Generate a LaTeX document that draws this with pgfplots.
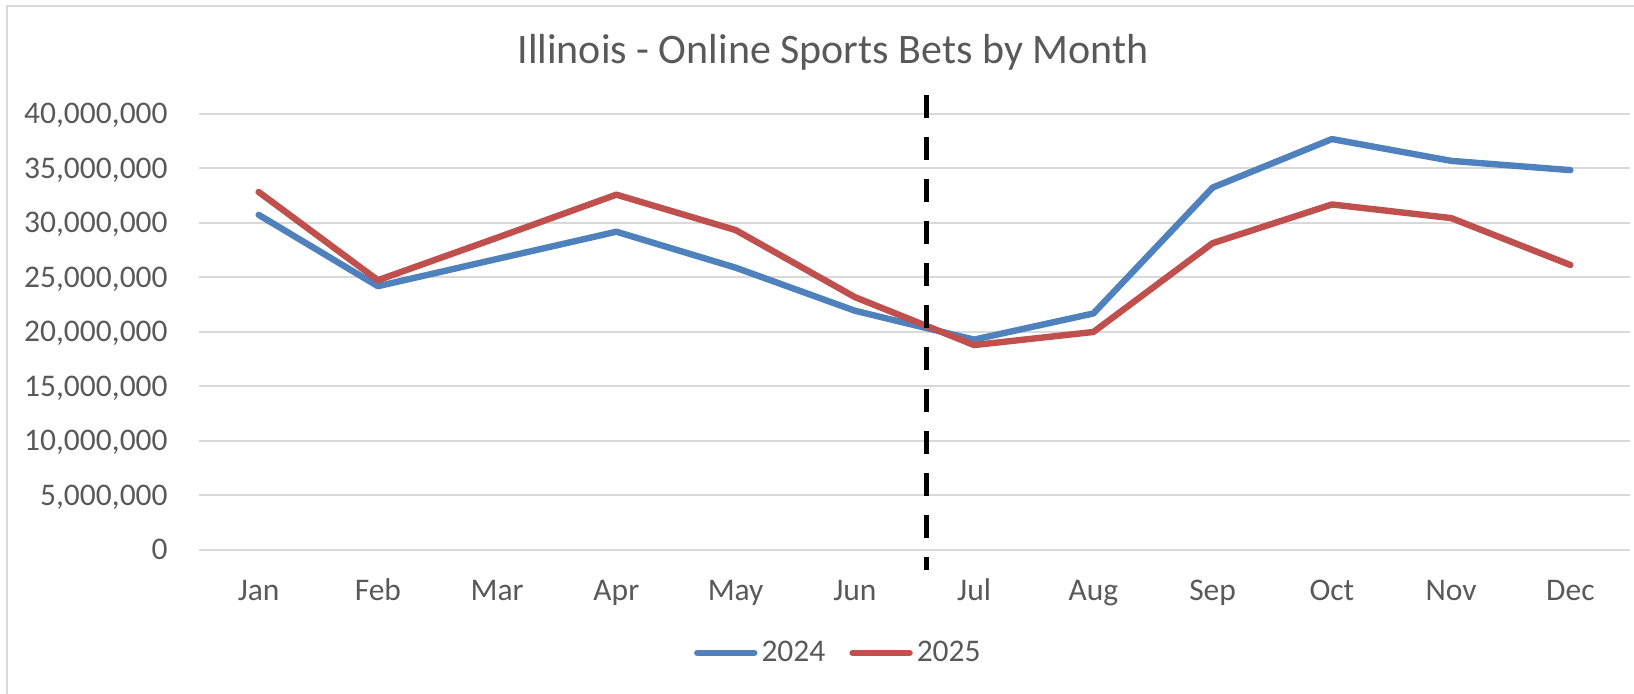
\documentclass[border=0pt]{standalone}
\usepackage{fontspec}
\setmainfont{Carlito}
\usepackage{pgfplots}
\pgfplotsset{compat=1.18}
\definecolor{blue24}{HTML}{4F81BD}
\definecolor{red25}{HTML}{C0504D}
\definecolor{txt}{HTML}{595959}
\definecolor{grd}{HTML}{D9D9D9}
\begin{document}
\begin{tikzpicture}
\path[use as bounding box] (0,0) rectangle (817pt,347pt);
\draw[grd, line width=1pt] (3.5pt,-10pt) -- (3.5pt,344pt) -- (830pt,344pt);
\node[txt, font=\fontsize{21pt}{25pt}\selectfont, anchor=center] at (416.5pt,321pt) {Illinois - Online Sports Bets by Month};
\begin{axis}[
  at={(99.5pt,72pt)}, anchor=south west,
  scale only axis, width=715.5pt, height=218pt,
  xmin=-0.5, xmax=11.5, ymin=0, ymax=40000000,
  scaled y ticks=false,
  axis line style={draw=none},
  major tick length=0pt,
  xtick={0,1,2,3,4,5,6,7,8,9,10,11},
  xticklabels={Jan,Feb,Mar,Apr,May,Jun,Jul,Aug,Sep,Oct,Nov,Dec},
  ytick={0,5000000,10000000,15000000,20000000,25000000,30000000,35000000,40000000},
  yticklabels={0,{5,000,000},{10,000,000},{15,000,000},{20,000,000},{25,000,000},{30,000,000},{35,000,000},{40,000,000}},
  ymajorgrids, grid style={grd, line width=1pt},
  tick label style={text=txt, font=\fontsize{15.75pt}{19pt}\selectfont, inner sep=0pt},
  xticklabel style={anchor=base, yshift=-25.5pt},
  yticklabel style={anchor=base east, xshift=-15.5pt, yshift=-5pt},
  clip=false,
  legend columns=2,
  legend style={at={(axis description cs:0.4475,-0.236)}, anchor=center, draw=none, fill=none,
    font=\fontsize{15.75pt}{19pt}\selectfont, text=txt, inner sep=0pt,
    /tikz/every even column/.append style={column sep=10pt}},
  legend cell align=left,
  legend image code/.code={\draw[#1] (0pt,0pt) -- (28.5pt,0pt);},
]
\addplot[blue24, line width=3.2pt, line join=round, line cap=round] coordinates {
 (0,30750000) (1,24200000) (2,26700000) (3,29200000) (4,25900000) (5,21950000)
 (6,19300000) (7,21700000) (8,33250000) (9,37700000) (10,35700000) (11,34850000)};
\addlegendentry{2024}
\addplot[red25, line width=3.2pt, line join=round, line cap=round] coordinates {
 (0,32850000) (1,24750000) (2,28650000) (3,32600000) (4,29350000) (5,23200000)
 (6,18800000) (7,20000000) (8,28150000) (9,31700000) (10,30450000) (11,26150000)};
\addlegendentry{2025}
\addplot[black, line width=2.5pt, dash pattern=on 11.5pt off 9.5pt, forget plot] coordinates {
 (5.6,41700000) (5.6,-1800000)};
\end{axis}
\end{tikzpicture}
\end{document}
